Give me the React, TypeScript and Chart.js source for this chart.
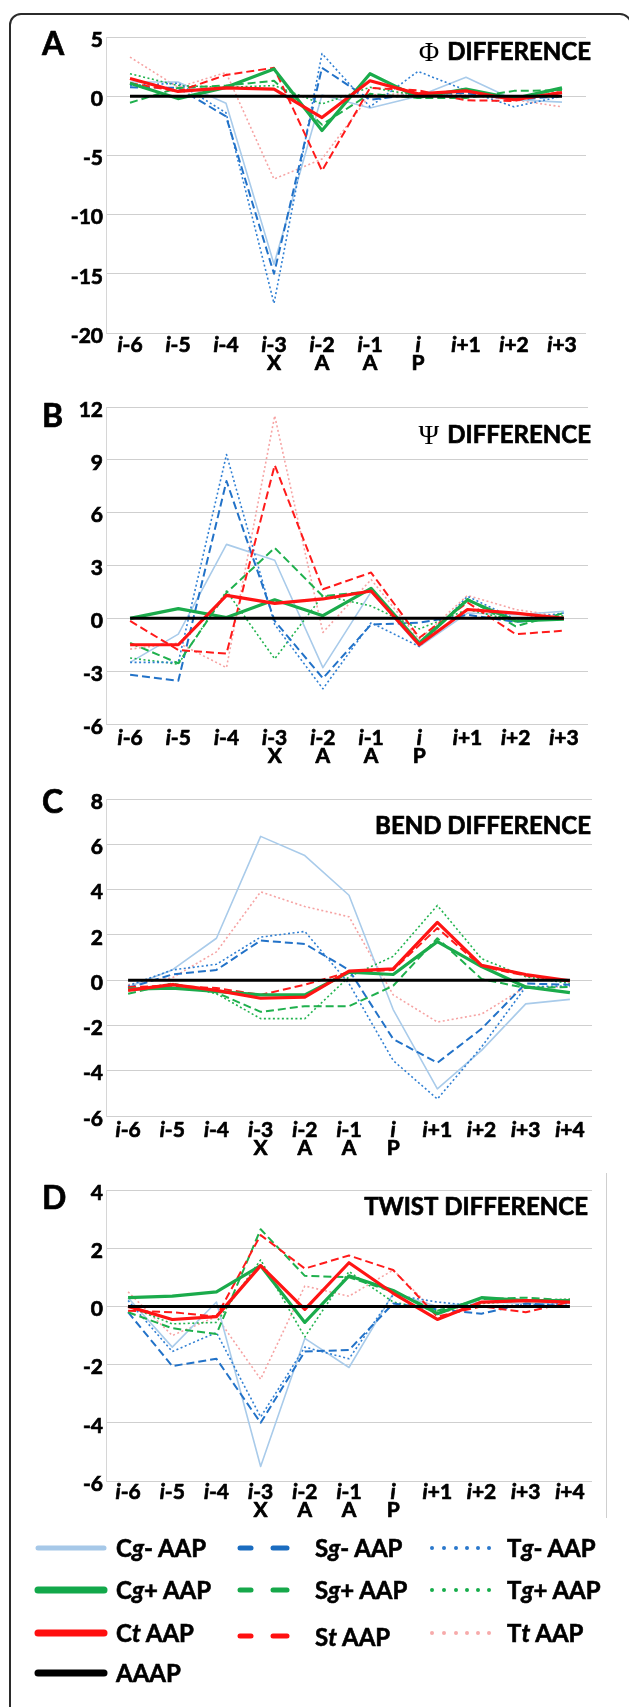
import React, { useEffect, useRef } from "react";
import { Chart, registerables } from "chart.js";
Chart.register(...registerables);

// ---------- categories ----------
const labels10 = ["i-6", "i-5", "i-4", "i-3", "i-2", "i-1", "i", "i+1", "i+2", "i+3"];
const labels11 = ["i-6", "i-5", "i-4", "i-3", "i-2", "i-1", "i", "i+1", "i+2", "i+3", "i+4"];
const residues10 = ["", "", "", "X", "A", "A", "P", "", "", ""];
const residues11 = ["", "", "", "X", "A", "A", "P", "", "", "", ""];

// ---------- A: PHI difference ----------
const phiCgMinus = [1.2, 1.2, -0.6, -14.2, 0.1, -1.0, 0.0, 1.6, -0.3, -0.5];
const phiSgMinus = [0.75, 0.7, -1.7, -15.0, 2.4, -0.3, 0.2, 0.25, -0.3, 0.0];
const phiTgMinus = [0.9, 1.1, -1.4, -17.5, 3.6, -0.9, 2.1, 0.5, -0.9, 0.0];
const phiCgPlus = [1.1, -0.2, 0.75, 2.3, -2.9, 1.9, -0.1, 0.6, -0.2, 0.7];
const phiSgPlus = [-0.55, 0.7, 0.9, 1.3, -2.4, 0.2, -0.15, -0.15, 0.45, 0.5];
const phiTgPlus = [1.9, 0.9, 0.75, 0.9, -0.65, 0.75, 0.05, 0.5, -0.2, 0.6];
const phiCt = [1.5, 0.4, 0.7, 0.6, -1.8, 1.3, 0.2, 0.45, -0.3, 0.3];
const phiSt = [1.1, 0.4, 1.8, 2.4, -6.3, 0.7, 0.5, -0.35, -0.4, 0.4];
const phiTt = [3.3, 0.75, 2.0, -7.0, -5.3, 0.1, 0.25, 0.1, -0.3, -0.9];
const phiAAAP = [0, 0, 0, 0, 0, 0, 0, 0, 0, 0];

// ---------- B: PSI difference ----------
const psiCgMinus = [-2.5, -0.9, 4.2, 3.3, -2.8, 1.5, -1.6, 0.3, 0.2, 0.4];
const psiSgMinus = [-3.2, -3.55, 7.8, -0.15, -3.4, -0.35, -0.25, 0.2, -0.2, 0.0];
const psiTgMinus = [-2.5, -2.5, 9.3, -0.35, -4.0, -0.25, -1.6, 1.25, -0.05, 0.3];
const psiCgPlus = [0.0, 0.55, 0.05, 1.05, 0.15, 1.7, -1.4, 1.05, -0.15, -0.05];
const psiSgPlus = [-1.4, -2.55, 1.45, 4.0, 1.25, 1.55, -1.4, 1.1, -0.45, 0.3];
const psiTgPlus = [-2.25, -2.6, 1.55, -2.3, 1.3, 0.7, -0.6, 0.5, -0.15, 0.15];
const psiCt = [-1.5, -1.5, 1.3, 0.85, 1.1, 1.55, -1.5, 0.5, 0.3, 0.0];
const psiSt = [-0.15, -1.8, -2.0, 8.7, 1.65, 2.6, -1.1, 0.9, -0.9, -0.7];
const psiTt = [-1.75, -1.4, -2.8, 11.5, -0.8, 2.2, -1.2, 1.3, 0.5, 0.1];
const psiAAAP = [0, 0, 0, 0, 0, 0, 0, 0, 0, 0];

// ---------- C: BEND difference ----------
const bendCgMinus = [-0.3, 0.45, 1.85, 6.35, 5.5, 3.75, -1.3, -4.8, -3.1, -1.05, -0.85];
const bendSgMinus = [-0.35, 0.25, 0.45, 1.75, 1.6, 0.45, -2.6, -3.65, -2.15, -0.15, -0.2];
const bendTgMinus = [-0.25, 0.45, 0.7, 1.9, 2.15, -0.15, -3.55, -5.25, -2.95, -0.3, -0.25];
const bendCgPlus = [-0.4, -0.35, -0.5, -0.65, -0.65, 0.35, 0.25, 1.7, 0.6, -0.3, -0.55];
const bendSgPlus = [-0.6, -0.15, -0.55, -1.4, -1.15, -1.15, -0.25, 1.85, 0.05, -0.35, -0.3];
const bendTgPlus = [-0.45, -0.15, -0.6, -1.7, -1.7, 0.15, 1.05, 3.3, 0.95, 0.15, -0.15];
const bendCt = [-0.45, -0.2, -0.45, -0.8, -0.75, 0.4, 0.5, 2.55, 0.65, 0.25, -0.03];
const bendSt = [-0.3, -0.25, -0.35, -0.65, -0.2, 0.35, 0.45, 2.3, 0.6, 0.2, -0.05];
const bendTt = [-0.2, 0.1, 1.25, 3.9, 3.25, 2.8, -0.65, -1.85, -1.5, -0.3, -0.3];
const bendAAAP = [0, 0, 0, 0, 0, 0, 0, 0, 0, 0, 0];

// ---------- D: TWIST difference ----------
const twistCgMinus = [0.3, -1.4, 0.15, -5.5, -1.1, -2.1, 0.45, 0.0, 0.15, 0.1, 0.1];
const twistSgMinus = [-0.2, -2.05, -1.8, -4.0, -1.55, -1.5, 0.1, -0.1, -0.25, 0.1, 0.0];
const twistTgMinus = [0.2, -1.55, -0.9, -3.8, -1.4, -1.8, 0.4, 0.15, 0.0, 0.05, 0.1];
const twistCgPlus = [0.3, 0.35, 0.5, 1.4, -0.55, 1.05, 0.55, -0.25, 0.3, 0.2, 0.2];
const twistSgPlus = [-0.2, -0.75, -0.95, 2.65, 1.05, 1.0, 0.5, -0.15, 0.25, 0.3, 0.2];
const twistTgPlus = [0.0, -0.6, -0.55, 1.6, -1.05, 1.2, 0.15, -0.15, 0.1, 0.2, 0.25];
const twistCt = [0.0, -0.45, -0.35, 1.4, -0.1, 1.5, 0.45, -0.45, 0.15, 0.2, 0.15];
const twistSt = [-0.15, -0.2, -0.35, 2.45, 1.3, 1.75, 1.25, -0.35, 0.0, -0.2, 0.15];
const twistTt = [0.5, -1.0, -0.35, -2.5, 0.7, 0.35, 1.25, -0.25, 0.1, 0.2, 0.25];
const twistAAAP = [0, 0, 0, 0, 0, 0, 0, 0, 0, 0, 0];

// ---------- series styles ----------
const SERIES = [
  { name: "Cg- AAP", color: "#a9cbea", width: 1.6, dash: [] as number[], order: 9 },
  { name: "Sg- AAP", color: "#2272c8", width: 2, dash: [8, 4], order: 6 },
  { name: "Tg- AAP", color: "#2f7fd3", width: 1.6, dash: [2, 2.5], order: 7 },
  { name: "Cg+ AAP", color: "#1aab4b", width: 3.2, dash: [] as number[], order: 2 },
  { name: "Sg+ AAP", color: "#1fb04d", width: 2, dash: [8, 4], order: 5 },
  { name: "Tg+ AAP", color: "#20b34e", width: 1.6, dash: [2, 2.5], order: 8 },
  { name: "Ct AAP", color: "#ff1414", width: 3.2, dash: [] as number[], order: 1 },
  { name: "St AAP", color: "#ff1a1a", width: 2, dash: [8, 4], order: 4 },
  { name: "Tt AAP", color: "#f6a3a3", width: 1.6, dash: [2, 2.5], order: 10 },
  { name: "AAAP", color: "#000000", width: 3, dash: [] as number[], order: 0 },
];

const FONT = "Lato, 'Open Sans', sans-serif";
const STROKE = 0.7;

type Panel = {
  letter: string;
  greek: string;
  title: string;
  labels: string[];
  residues: string[];
  series: number[][];
  chartTop: number;
  chartBottom: number;
  right: number;
  min: number;
  max: number;
  step: number;
  letterBase: number;
  titleBase: number;
  titleRight: number;
  row1: number;
  row2: number;
};

const PANELS: Panel[] = [
  {
    letter: "A", greek: "\u03A6", title: "DIFFERENCE", labels: labels10, residues: residues10,
    series: [phiCgMinus, phiSgMinus, phiTgMinus, phiCgPlus, phiSgPlus, phiTgPlus, phiCt, phiSt, phiTt, phiAAAP],
    chartTop: 37, chartBottom: 333, right: 586, min: -20, max: 5, step: 5,
    letterBase: 55, titleBase: 60, titleRight: 591, row1: 19, row2: 37,
  },
  {
    letter: "B", greek: "\u03A8", title: "DIFFERENCE", labels: labels10, residues: residues10,
    series: [psiCgMinus, psiSgMinus, psiTgMinus, psiCgPlus, psiSgPlus, psiTgPlus, psiCt, psiSt, psiTt, psiAAAP],
    chartTop: 407, chartBottom: 724, right: 588, min: -6, max: 12, step: 3,
    letterBase: 427, titleBase: 443, titleRight: 591, row1: 21, row2: 39,
  },
  {
    letter: "C", greek: "", title: "BEND DIFFERENCE", labels: labels11, residues: residues11,
    series: [bendCgMinus, bendSgMinus, bendTgMinus, bendCgPlus, bendSgPlus, bendTgPlus, bendCt, bendSt, bendTt, bendAAAP],
    chartTop: 799, chartBottom: 1116, right: 592, min: -6, max: 8, step: 2,
    letterBase: 813, titleBase: 834, titleRight: 591, row1: 21, row2: 39,
  },
  {
    letter: "D", greek: "", title: "TWIST DIFFERENCE", labels: labels11, residues: residues11,
    series: [twistCgMinus, twistSgMinus, twistTgMinus, twistCgPlus, twistSgPlus, twistTgPlus, twistCt, twistSt, twistTt, twistAAAP],
    chartTop: 1190, chartBottom: 1481, right: 592, min: -6, max: 4, step: 2,
    letterBase: 1209, titleBase: 1215, titleRight: 588, row1: 18, row2: 36,
  },
];

const PAD_TOP = 30;
const PAD_BOTTOM = 50;

function drawText(ctx: CanvasRenderingContext2D, s: string, x: number, y: number) {
  ctx.fillText(s, x, y);
  ctx.strokeText(s, x, y);
}

function makeTextPlugin(p: Panel, canvasTop: number) {
  return {
    id: "panelText" + p.letter,
    afterDraw(chart: any) {
      const ctx = chart.ctx as CanvasRenderingContext2D;
      const xs = chart.scales.x;
      ctx.save();
      ctx.fillStyle = "#000";
      ctx.strokeStyle = "#000";
      ctx.lineWidth = STROKE;
      ctx.lineJoin = "round";
      ctx.setLineDash([]);
      ctx.textBaseline = "alphabetic";
      // panel letter
      ctx.textAlign = "left";
      ctx.font = `bold 32px ${FONT}`;
      drawText(ctx, p.letter, 42, p.letterBase - canvasTop);
      // title
      ctx.textAlign = "right";
      ctx.font = `bold 24px ${FONT}`;
      drawText(ctx, p.title, p.titleRight, p.titleBase - canvasTop);
      if (p.greek) {
        const w = ctx.measureText(p.title).width;
        ctx.font = `28px 'Liberation Serif', 'DejaVu Serif', serif`;
        ctx.fillText(p.greek, p.titleRight - w - 8, p.titleBase - canvasTop + 1);
      }
      // x tick labels: italic "i" + bold remainder, second row residue
      const base1 = chart.chartArea.bottom + p.row1;
      const base2 = chart.chartArea.bottom + p.row2;
      ctx.textAlign = "left";
      p.labels.forEach((lab, i) => {
        const cx = xs.getPixelForValue(i);
        const head = lab.slice(0, 1);
        const rest = lab.slice(1);
        ctx.font = `italic bold 21px ${FONT}`;
        const wh = ctx.measureText(head).width;
        ctx.font = `bold 21px ${FONT}`;
        const wr = ctx.measureText(rest).width;
        const x0 = cx - (wh + wr) / 2;
        ctx.font = `italic bold 21px ${FONT}`;
        drawText(ctx, head, x0, base1);
        ctx.font = `bold 21px ${FONT}`;
        drawText(ctx, rest, x0 + wh, base1);
        const r = p.residues[i];
        if (r) {
          ctx.textAlign = "center";
          drawText(ctx, r, cx, base2);
          ctx.textAlign = "left";
        }
      });
      ctx.restore();
    },
  };
}

function PanelChart({ p }: { p: Panel }) {
  const ref = useRef<HTMLCanvasElement>(null);
  const canvasTop = p.chartTop - PAD_TOP;
  const h = p.chartBottom - p.chartTop + PAD_TOP + PAD_BOTTOM;
  useEffect(() => {
    const chart = new Chart(ref.current as HTMLCanvasElement, {
      type: "line",
      data: {
        labels: p.labels,
        datasets: SERIES.map((s, k) => ({
          label: s.name,
          data: p.series[k],
          borderColor: s.color,
          backgroundColor: s.color,
          borderWidth: s.width,
          borderDash: s.dash,
          pointRadius: 0,
          pointHoverRadius: 0,
          tension: 0,
          fill: false,
          order: s.order,
          borderJoinStyle: "round",
        })),
      },
      options: {
        animation: false,
        responsive: false,
        devicePixelRatio: 1,
        events: [],
        layout: { padding: { top: PAD_TOP, bottom: PAD_BOTTOM, left: 0, right: 629 - p.right } },
        plugins: { legend: { display: false }, tooltip: { enabled: false }, title: { display: false } },
        scales: {
          x: {
            type: "category",
            offset: true,
            grid: { display: false, drawTicks: false },
            border: { display: false },
            ticks: { display: false },
            afterFit: (s: any) => { s.height = 0; },
          },
          y: {
            min: p.min,
            max: p.max,
            grid: { color: "#cfcfcf", lineWidth: 1, drawTicks: false },
            border: { display: true, color: "#d6d6d6", width: 1 },
            ticks: {
              stepSize: p.step,
              padding: 3,
              labelOffset: 3,
              color: "#000",
              textStrokeColor: "#000",
              textStrokeWidth: STROKE,
              font: { family: FONT, size: 21, weight: "bold" },
              callback: (v: any) => String(v),
            },
            afterFit: (s: any) => { s.width = 106; },
          },
        },
      },
      plugins: [makeTextPlugin(p, canvasTop)],
    } as any);
    return () => chart.destroy();
  }, []);
  return (
    <canvas
      ref={ref}
      width={629}
      height={h}
      style={{ position: "absolute", left: 0, top: canvasTop, width: 629, height: h, display: "block" }}
    />
  );
}

// ---------- legend ----------
const legendCol1 = [
  { pre: "C", it: "g", post: "- AAP", color: "#a6c8e8", w: 5 },
  { pre: "C", it: "g", post: "+ AAP", color: "#12a84a", w: 7 },
  { pre: "C", it: "t", post: " AAP", color: "#ff0f0f", w: 7 },
  { pre: "", it: "", post: "AAAP", color: "#000000", w: 7 },
];
const legendCol2 = [
  { pre: "S", it: "g", post: "- AAP", color: "#1a6cc0" },
  { pre: "S", it: "g", post: "+ AAP", color: "#16a84a" },
  { pre: "S", it: "t", post: " AAP", color: "#ff1010" },
];
const legendCol3 = [
  { pre: "T", it: "g", post: "- AAP", color: "#2a78cc" },
  { pre: "T", it: "g", post: "+ AAP", color: "#16ad4a" },
  { pre: "T", it: "t", post: " AAP", color: "#f7aaaa" },
];
const legendRowY = [1548, 1590, 1633, 1673];
const dotXs = [432, 444, 456, 467, 478, 489];

function LegendText({ x, y, pre, it, post }: any) {
  return (
    <div
      style={{
        position: "absolute", left: x, top: y - 16, height: 32, lineHeight: "32px",
        fontFamily: FONT, fontWeight: 700, fontSize: 24, color: "#000", whiteSpace: "nowrap",
        WebkitTextStroke: "0.6px #000",
      }}
    >
      {pre}
      {it ? <i>{it}</i> : null}
      {post}
    </div>
  );
}

function Legend() {
  return (
    <>
      <svg width={629} height={1707} style={{ position: "absolute", left: 0, top: 0 }}>
        {legendCol1.map((l, i) => (
          <line key={"a" + i} x1={38} x2={104} y1={legendRowY[i]} y2={legendRowY[i]}
            stroke={l.color} strokeWidth={l.w} strokeLinecap="round" />
        ))}
        {legendCol2.map((l, i) => (
          <g key={"b" + i}>
            <line x1={240} x2={251} y1={legendRowY[i] + (i === 2 ? 3 : 0)} y2={legendRowY[i] + (i === 2 ? 3 : 0)}
              stroke={l.color} strokeWidth={5} strokeLinecap="round" />
            <line x1={273} x2={287} y1={legendRowY[i] + (i === 2 ? 3 : 0)} y2={legendRowY[i] + (i === 2 ? 3 : 0)}
              stroke={l.color} strokeWidth={5} strokeLinecap="round" />
          </g>
        ))}
        {legendCol3.map((l, i) =>
          dotXs.map((dx, j) => (
            <circle key={"c" + i + "-" + j} cx={dx} cy={legendRowY[i]} r={2} fill={l.color} />
          ))
        )}
      </svg>
      {legendCol1.map((l, i) => (
        <LegendText key={"ta" + i} x={116} y={legendRowY[i]} pre={l.pre} it={l.it} post={l.post} />
      ))}
      {legendCol2.map((l, i) => (
        <LegendText key={"tb" + i} x={315} y={legendRowY[i] + (i === 2 ? 4 : 0)} pre={l.pre} it={l.it} post={l.post} />
      ))}
      {legendCol3.map((l, i) => (
        <LegendText key={"tc" + i} x={507} y={legendRowY[i]} pre={l.pre} it={l.it} post={l.post} />
      ))}
    </>
  );
}

export default function App() {
  return (
    <div style={{ position: "absolute", left: 0, top: 0, width: 629, height: 1707, overflow: "hidden", background: "#fff" }}>
      <div
        style={{
          position: "absolute", left: 9, top: 13, width: 623, height: 1760, boxSizing: "border-box",
          border: "2px solid #2b2b2b", borderRadius: 12,
        }}
      />
      <div style={{ position: "absolute", left: 606, top: 1173, width: 1, height: 345, background: "#cfcfcf" }} />
      {PANELS.map((p) => (
        <PanelChart key={p.letter} p={p} />
      ))}
      <Legend />
    </div>
  );
}
